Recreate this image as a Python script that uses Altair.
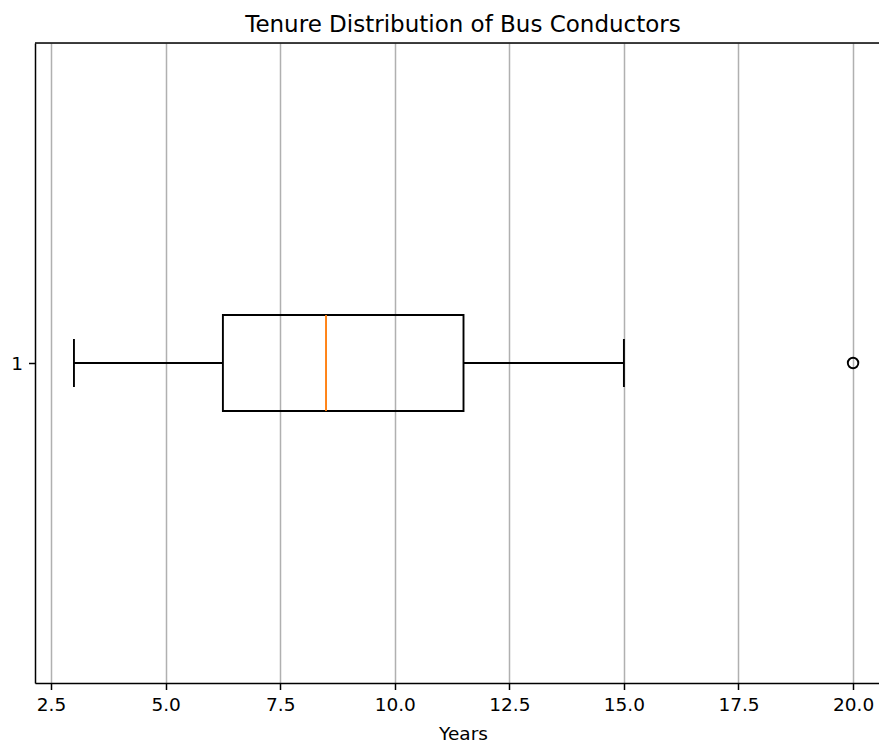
import altair as alt
import pandas as pd

# Box-plot summary
groups = [1.0]
whisker_low = [3.0]
q1 = [6.25]
median = [8.5]
q3 = [11.5]
whisker_high = [15.0]
outlier_values = [20.0]
outlier_group = [1.0]

x_ticks = [2.5, 5.0, 7.5, 10.0, 12.5, 15.0, 17.5, 20.0]
title_text = ["Tenure Distribution of Bus Conductors"]

BOX_HALF = 0.075
CAP_HALF = 0.0375
W, H = 844, 640
FONT = "DejaVu Sans"

df = pd.DataFrame({"pos": groups, "lo": whisker_low, "q1": q1, "med": median,
                   "q3": q3, "hi": whisker_high})
df["b0"] = df["pos"] - BOX_HALF
df["b1"] = df["pos"] + BOX_HALF
df["c0"] = df["pos"] - CAP_HALF
df["c1"] = df["pos"] + CAP_HALF
out_df = pd.DataFrame({"pos": outlier_group, "v": outlier_values})
title_df = pd.DataFrame({"t": title_text})

xs = alt.Scale(domain=[2.15, 20.566], nice=False, zero=False)
ys = alt.Scale(domain=[0.5, 1.5], nice=False, zero=False)

x_axis = alt.Axis(values=x_ticks, format=".1f", grid=True, gridColor="#b0b0b0",
                  gridWidth=1.5, domainColor="black", domainWidth=1.5,
                  tickColor="black", tickWidth=1.5, tickSize=6.5, labelPadding=6,
                  labelFont=FONT, labelFontSize=18.5, labelColor="black",
                  labelFlush=False, title="Years", titleFont=FONT, titleFontSize=18.5,
                  titleFontWeight="normal", titleColor="black",
                  titleBaseline="alphabetic", titleAlign="center", titleX=428, titleY=56)
y_axis = alt.Axis(values=[1], format="d", grid=False, domainColor="black", domainWidth=1.5,
                  tickColor="black", tickWidth=1.5, tickSize=6.5, labelPadding=6,
                  labelFont=FONT, labelFontSize=18.5, labelColor="black", title=None)

base = alt.Chart(df)
RULE = dict(color="black", strokeWidth=1.9)

box = base.mark_rect(fillOpacity=0, stroke="black", strokeWidth=1.9).encode(
    x=alt.X("q1:Q", scale=xs, axis=x_axis), x2="q3:Q",
    y=alt.Y("b0:Q", scale=ys, axis=y_axis), y2="b1:Q")

whisk_lo = base.mark_rule(**RULE).encode(
    x=alt.X("lo:Q", scale=xs, axis=x_axis), x2="q1:Q",
    y=alt.Y("pos:Q", scale=ys, axis=y_axis))
whisk_hi = base.mark_rule(**RULE).encode(
    x=alt.X("q3:Q", scale=xs, axis=x_axis), x2="hi:Q",
    y=alt.Y("pos:Q", scale=ys, axis=y_axis))
cap_lo = base.mark_rule(**RULE).encode(
    x=alt.X("lo:Q", scale=xs, axis=x_axis),
    y=alt.Y("c0:Q", scale=ys, axis=y_axis), y2="c1:Q")
cap_hi = base.mark_rule(**RULE).encode(
    x=alt.X("hi:Q", scale=xs, axis=x_axis),
    y=alt.Y("c0:Q", scale=ys, axis=y_axis), y2="c1:Q")
med = base.mark_rule(color="#ff7f0e", strokeWidth=1.9).encode(
    x=alt.X("med:Q", scale=xs, axis=x_axis),
    y=alt.Y("b0:Q", scale=ys, axis=y_axis), y2="b1:Q")

outl = alt.Chart(out_df).mark_point(shape="circle", filled=False, color="black",
                                    strokeWidth=1.9, size=110, opacity=1).encode(
    x=alt.X("v:Q", scale=xs, axis=x_axis),
    y=alt.Y("pos:Q", scale=ys, axis=y_axis))

top_border = base.mark_rule(color="black", strokeWidth=1.5).encode(
    x=alt.value(0), x2=alt.value(W), y=alt.value(0))

title = alt.Chart(title_df).mark_text(font=FONT, fontSize=23, color="black",
                                      align="center", baseline="alphabetic").encode(
    text="t:N", x=alt.value(428), y=alt.value(-11))

chart = alt.layer(box, whisk_lo, whisk_hi, cap_lo, cap_hi, med, outl, top_border, title).properties(
    width=W, height=H,
    autosize=alt.AutoSizeParams(type="none"),
    padding={"left": 35, "top": 43, "right": 0, "bottom": 60},
).configure_view(strokeWidth=0).configure(background="white")

chart.save("out.html", embed_options={"renderer": "svg", "actions": False})
